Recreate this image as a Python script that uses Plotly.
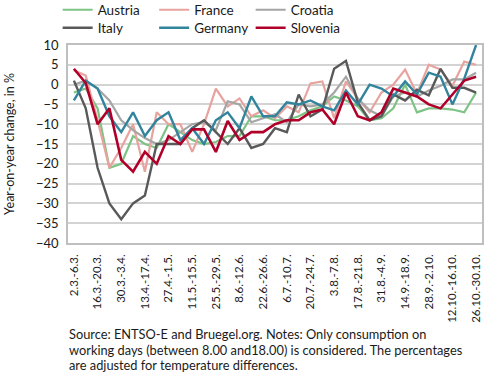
import plotly.graph_objects as go

weeks = ["2.3.-6.3.", "9.3.-13.3.", "16.3.-20.3.", "23.3.-27.3.", "30.3.-3.4.", "6.4.-10.4.",
         "13.4.-17.4.", "20.4.-24.4.", "27.4.-1.5.", "4.5.-8.5.", "11.5.-15.5.", "18.5.-22.5.",
         "25.5.-29.5.", "1.6.-5.6.", "8.6.-12.6.", "15.6.-19.6.", "22.6.-26.6.", "29.6.-3.7.",
         "6.7.-10.7.", "13.7.-17.7.", "20.7.-24.7.", "27.7.-31.7.", "3.8.-7.8.", "10.8.-14.8.",
         "17.8.-21.8.", "24.8.-28.8.", "31.8.-4.9.", "7.9.-11.9.", "14.9.-18.9.", "21.9.-25.9.",
         "28.9.-2.10.", "5.10.-9.10.", "12.10.-16.10.", "19.10.-23.10.", "26.10.-30.10."]
tick_labels = weeks[::2]

austria = [-2, -1, -6, -21, -20, -13, -15, -16, -10, -12, -14, -15, -14.5, -13, -13, -8, -8, -9,
           -9, -8, -6.5, -5.5, -3, -4, -5.5, -9, -8.5, -6, 0, -7, -6, -6, -6.3, -7, -2]
france = [3.6, 2.3, -9, -21, -16, -10, -22, -7, -10, -10, -17, -10, -1, -5.5, -3.5, -8, -6.5, -8.5,
          -5.5, -7, 0.3, 0.8, -8.5, 0.8, -3.5, -7, -2, 0, 3.8, -2.3, 5, 3.8, -0.3, 5.8, 5]
croatia = [0, 1, -1, -4, -9, -11.5, -13.5, -15, -14, -12, -10, -9.5, -11.5, -4.2, -5, -9.5, -8.5, -7.5,
           -9.5, -5, -5.5, -5, -2, 2, -3.5, -6.5, -8, -3, -2, -3, -1.5, -0.3, 1.3, 1.3, 3]
italy = [1, -6, -21, -30, -34, -30, -28, -15, -15, -15, -11, -9, -12, -15, -11, -16, -15, -11,
         -12, -2.5, -8, -6.3, 4, 6, -4.5, -9, -8, -2.5, -4, -1.3, -2.7, 4, -0.8, -0.8, -2]
germany = [-4, 1, -1, -8, -12, -7, -13, -9, -7, -14, -11, -15, -9, -7, -11, -3, -8, -8,
           -4.5, -5, -4, -5.5, -6.5, -1.5, -5, 0, -1, -3, 0.8, -2.5, 3, 2, -5, 1.5, 10]
slovenia = [4, 0.4, -10, -6, -19, -22, -17, -20, -13, -15, -11.3, -11.3, -17, -9.2, -14, -12, -12, -10,
            -9, -9, -7, -6.3, -10, -2, -8, -9, -7, -1, -2, -3, -5, -6, -2.5, 1, 2]

note_lines = [
    "Source: ENTSO-E and Bruegel.org. Notes: Only consumption on",
    "working days (between 8.00 and18.00) is considered. The percentages",
    "are adjusted for temperature differences.",
]

series = [
    ("Austria", austria, "#7DC383", 2.2, "legend"),
    ("France", france, "#E8A39E", 2.2, "legend"),
    ("Croatia", croatia, "#A5A5A5", 2.2, "legend"),
    ("Italy", italy, "#595959", 2.4, "legend2"),
    ("Germany", germany, "#31849B", 2.4, "legend2"),
    ("Slovenia", slovenia, "#B0002A", 2.6, "legend2"),
]

FONT = "Lato"
fig = go.Figure()
for name, vals, color, w, lg in series:
    fig.add_trace(go.Scatter(x=weeks, y=vals, mode="lines", name=name,
                             line=dict(color=color, width=w), legend=lg))

legend_common = dict(orientation="h", xref="paper", yref="paper", x=-0.025, xanchor="left",
                     yanchor="middle", entrywidth=51.5, entrywidthmode="pixels",
                     font=dict(family=FONT, size=13.5, color="#1a1a1a"),
                     bgcolor="rgba(0,0,0,0)", tracegroupgap=0, itemwidth=30)

annotations = []
for k, line in enumerate(note_lines):
    annotations.append(dict(
        text=line, xref="paper", yref="paper", x=0.0, y=-0.4596 - k * 0.0783,
        xanchor="left", yanchor="middle", align="left", showarrow=False,
        borderpad=0, font=dict(family=FONT, size=12.8, color="#1a1a1a")))

fig.update_layout(
    width=490, height=374,
    margin=dict(l=68, r=8, t=45, b=131, autoexpand=False),
    paper_bgcolor="white", plot_bgcolor="white",
    font=dict(family=FONT, size=13, color="#1a1a1a"),
    showlegend=True,
    legend=dict(legend_common, y=1.177),
    legend2=dict(legend_common, y=1.086),
    xaxis=dict(type="category", categoryorder="array", categoryarray=weeks,
               tickmode="array", tickvals=tick_labels, ticktext=tick_labels,
               tickangle=-90, tickfont=dict(family=FONT, size=11.5, color="#1a1a1a"),
               ticklabelstandoff=5,
               showgrid=False, showline=True, linecolor="#BFBFBF", linewidth=1.5,
               mirror=True, ticks="", automargin=False, range=[-0.5, 34.5]),
    yaxis=dict(range=[-40, 10], dtick=5, tick0=0, showgrid=True, gridcolor="#D3D3D3",
               gridwidth=1.5, showline=True, linecolor="#BFBFBF", linewidth=1.5, mirror=True,
               zeroline=False, ticks="", tickfont=dict(family=FONT, size=13, color="#1a1a1a"),
               ticklabelstandoff=5,
               title=dict(text="Year-on-year change, in %", font=dict(family=FONT, size=12.5),
                          standoff=19),
               automargin=False),
    annotations=annotations,
)

fig.write_html("out.html", config={"displayModeBar": False},
               post_script="document.body.style.margin='0';")
